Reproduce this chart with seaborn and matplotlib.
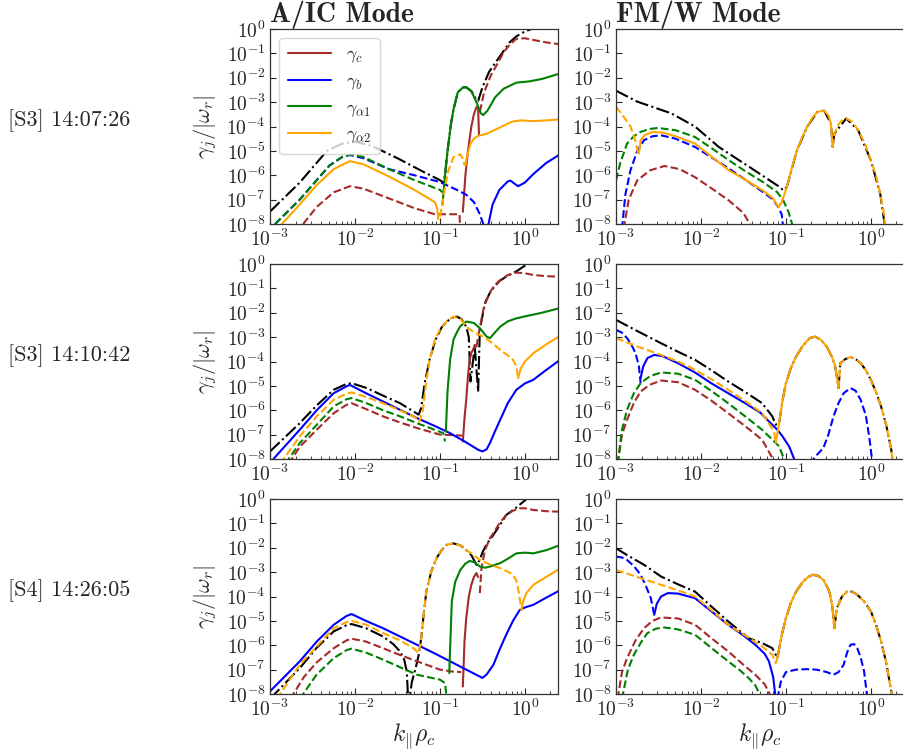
import numpy as np
import matplotlib
matplotlib.use("Agg")
import matplotlib.pyplot as plt
import matplotlib.ticker as mticker
from matplotlib.lines import Line2D
import seaborn as sns

# Values, stored as log10(k_par rho_c) and log10(|gamma_j/omega_r|).
# Each species is a list of segments (sign, log10 k, log10 gamma):
# sign +1 = growth (solid line), -1 = damping (dashed line).
# "tot" is the black dash-dot total.

row_labels = ["[S3] 14:07:26", "[S3] 14:10:42", "[S4] 14:26:05"]
col_titles = ["A/IC Mode", "FM/W Mode"]
species = ["c", "b", "a1", "a2"]
species_labels = [r"$\gamma_c$", r"$\gamma_b$", r"$\gamma_{\alpha 1}$", r"$\gamma_{\alpha 2}$"]

# ---------------- [S3] 14:07:26, A/IC ----------------
s3a_aic_tot = ([-3, -2.65, -2.33, -2.15, -2.0, -1.8, -1.5, -1.2, -1.0, -0.96, -0.94, -0.91,
                -0.87, -0.84, -0.79, -0.73, -0.69, -0.63, -0.57, -0.55, -0.5, -0.42, -0.33,
                -0.25, -0.18, -0.1, 0.0, 0.08],
               [-7.49, -6.3, -5.0, -4.7, -4.62, -4.8, -5.3, -5.85, -6.2, -6.3, -6.0, -5.0,
                -3.9, -3.3, -2.6, -2.4, -2.39, -2.55, -2.9, -2.95, -2.4, -1.75, -1.3,
                -0.9, -0.55, -0.3, -0.1, 0.0])
s3a_aic_c = [(-1, [-2.61, -2.45, -2.25, -2.06, -1.9, -1.6, -1.3, -1.06, -0.9, -0.77, -0.76],
                  [-8, -7.3, -6.7, -6.45, -6.55, -6.95, -7.35, -7.6, -7.6, -7.6, -8.2]),
             (1, [-0.73, -0.7, -0.67, -0.63, -0.6, -0.57, -0.55, -0.54],
                 [-7.5, -6.0, -5.0, -4.0, -3.5, -3.2, -3.25, -4.36]),
             (-1, [-0.53, -0.48, -0.4, -0.33, -0.25, -0.18, -0.1, 0.0, 0.1, 0.25, 0.4],
                  [-3.4, -2.6, -1.9, -1.47, -0.95, -0.65, -0.4, -0.38, -0.45, -0.55, -0.62])]
s3a_aic_b = [(-1, [-2.94, -2.65, -2.45, -2.3, -2.15, -2.06, -1.9, -1.6, -1.3, -1.0, -0.8,
                   -0.69, -0.6, -0.53, -0.47],
                  [-8, -7.0, -6.2, -5.6, -5.25, -5.17, -5.3, -5.75, -6.0, -6.28, -6.6,
                   -6.8, -7.1, -7.6, -8.2]),
             (1, [-0.44, -0.38, -0.3, -0.2, -0.17, -0.12, -0.08, 0.0, 0.1, 0.25, 0.4],
                 [-8.2, -7.2, -6.6, -6.25, -6.22, -6.35, -6.45, -6.3, -5.95, -5.5, -5.17])]
s3a_aic_a1 = [(-1, [-2.94, -2.65, -2.45, -2.3, -2.15, -2.06, -1.9, -1.6, -1.3, -1.0, -0.97],
                   [-8, -7.0, -6.2, -5.6, -5.25, -5.15, -5.25, -5.75, -6.2, -6.6, -6.7]),
              (1, [-0.97, -0.94, -0.91, -0.87, -0.84, -0.79, -0.73, -0.69, -0.63, -0.57, -0.52,
                   -0.49, -0.44, -0.35, -0.25, -0.1, 0.05, 0.2, 0.4],
                  [-7.2, -6.0, -5.0, -3.9, -3.3, -2.6, -2.4, -2.39, -2.55, -3.0, -3.45,
                   -3.53, -3.35, -2.8, -2.45, -2.2, -2.15, -2.05, -1.84])]
s3a_aic_a2 = [(1, [-2.86, -2.65, -2.45, -2.25, -2.06, -1.9, -1.6, -1.3, -1.06, -1.03, -1.02],
                  [-8, -7.2, -6.4, -5.75, -5.42, -5.55, -6.05, -6.6, -7.1, -7.4, -7.8]),
              (-1, [-1.0, -0.97, -0.94, -0.9, -0.84, -0.76, -0.72, -0.71],
                   [-7.7, -7.2, -6.5, -5.8, -5.25, -5.14, -5.4, -5.6]),
              (1, [-0.7, -0.68, -0.64, -0.6, -0.55, -0.45, -0.3, -0.15, -0.05, 0.1, 0.25, 0.4],
                  [-5.6, -5.2, -4.7, -4.5, -4.38, -4.3, -4.05, -3.8, -3.75, -3.78, -3.75, -3.71])]

# ---------------- [S3] 14:07:26, FM/W ----------------
s3a_fm_tot = ([-3, -2.75, -2.35, -2.07, -1.79, -1.43, -1.07, -1.03, -0.99, -0.87, -0.75, -0.63,
               -0.55, -0.47, -0.45, -0.43, -0.29, -0.15, 0.0, 0.11, 0.17],
              [-2.53, -2.98, -3.46, -4.0, -4.84, -5.66, -6.49, -6.62, -6.49, -4.98, -4.01, -3.4,
               -3.35, -3.88, -4.84, -4.29, -3.67, -4.15, -5.39, -6.76, -8.2])
s3a_fm_c = [(-1, [-2.91, -2.85, -2.75, -2.6, -2.43, -2.25, -2.07, -1.87, -1.67, -1.5, -1.39],
                 [-8.2, -7.0, -6.21, -5.8, -5.62, -5.75, -6.08, -6.55, -7.04, -7.55, -8.2])]
s3a_fm_b = [(-1, [-2.93, -2.89, -2.83, -2.75, -2.67, -2.57, -2.47, -2.3, -2.07, -1.87, -1.67,
                  -1.47, -1.27, -1.15, -1.09, -1.05, -1.03],
                 [-8.2, -6.8, -5.8, -5.0, -4.56, -4.4, -4.36, -4.5, -4.84, -5.28, -5.73,
                  -6.2, -6.69, -7.0, -7.31, -7.6, -8.2])]
s3a_fm_a1 = [(-1, [-3, -2.95, -2.87, -2.79, -2.71, -2.6, -2.51, -2.3, -2.07, -1.87, -1.67,
                   -1.47, -1.27, -1.1, -1.03, -0.97, -0.91],
                  [-6.21, -5.5, -4.7, -4.4, -4.22, -4.1, -4.06, -4.15, -4.43, -4.9, -5.39,
                   -5.85, -6.28, -6.7, -7.04, -7.5, -8.2])]
s3a_fm_a2 = [(-1, [-3, -2.92, -2.83, -2.77, -2.74], [-3.19, -3.55, -4.0, -4.6, -5.1]),
             (1, [-2.73, -2.71, -2.66, -2.57, -2.45, -2.3, -2.07, -1.87, -1.67, -1.47, -1.27,
                  -1.15, -1.09, -1.05, -1.03, -0.99, -0.93, -0.87, -0.81, -0.75, -0.69, -0.63,
                  -0.55, -0.5, -0.47, -0.45],
                 [-5.1, -4.56, -4.35, -4.22, -4.25, -4.4, -4.7, -5.25, -5.8, -6.2, -6.63,
                  -6.95, -7.31, -7.1, -6.9, -6.49, -5.7, -4.98, -4.45, -4.01, -3.65, -3.4,
                  -3.35, -3.55, -3.88, -4.84]),
             (-1, [-0.45, -0.43, -0.38, -0.33, -0.29, -0.22, -0.15, -0.07, 0.0, 0.06, 0.11,
                   0.15, 0.17],
                  [-4.84, -4.29, -3.9, -3.72, -3.67, -3.8, -4.15, -4.7, -5.39, -6.0, -6.76,
                   -7.5, -8.2])]

# ---------------- [S3] 14:10:42, A/IC ----------------
s3b_aic_tot = ([-3, -2.65, -2.45, -2.25, -2.1, -2.04, -1.86, -1.67, -1.47, -1.25, -1.22, -1.18,
                -1.12, -1.05, -0.98, -0.92, -0.84, -0.8, -0.75, -0.69, -0.66, -0.64, -0.59,
                -0.55, -0.53, -0.47, -0.4, -0.3, -0.22, -0.1, 0.03],
               [-7.69, -6.53, -5.8, -5.16, -4.92, -4.89, -5.09, -5.4, -5.71, -6.18, -5.9, -4.9,
                -3.9, -3.1, -2.6, -2.36, -2.18, -2.16, -2.25, -2.57, -3.0, -4.82, -3.39,
                -5.23, -2.7, -1.6, -1.1, -0.7, -0.52, -0.3, 0.0])
s3b_aic_c = [(-1, [-2.78, -2.65, -2.45, -2.25, -2.1, -2.04, -1.87, -1.67, -1.47, -1.27, -1.0,
                   -0.85, -0.74],
                  [-8.2, -7.5, -6.8, -6.12, -5.78, -5.71, -5.95, -6.25, -6.5, -6.73, -7.0,
                   -7.02, -7.04]),
             (1, [-0.73, -0.71, -0.69, -0.67, -0.65, -0.63, -0.61, -0.59, -0.57],
                 [-7.28, -6.3, -5.57, -4.6, -3.93, -3.65, -3.52, -3.32, -3.39]),
             (-1, [-0.57, -0.53, -0.49, -0.45, -0.4, -0.35, -0.29, -0.2, -0.1, 0.0, 0.1, 0.25, 0.4],
                  [-3.39, -2.6, -1.9, -1.47, -1.1, -0.85, -0.66, -0.45, -0.35, -0.38, -0.45,
                   -0.5, -0.52])]
s3b_aic_b = [(1, [-2.96, -2.65, -2.45, -2.25, -2.1, -2.06, -1.87, -1.67, -1.47, -1.27, -1.07,
                  -0.88, -0.7, -0.55, -0.5, -0.45, -0.41, -0.35, -0.29, -0.2, -0.1, 0.0, 0.1,
                  0.25, 0.4],
                 [-8, -6.8, -6.0, -5.3, -5.02, -4.96, -5.3, -5.64, -5.98, -6.32, -6.63,
                  -6.94, -7.3, -7.62, -7.69, -7.6, -7.34, -6.85, -6.39, -5.7, -5.16, -4.9,
                  -4.75, -4.35, -3.97])]
s3b_aic_a1 = [(-1, [-2.82, -2.65, -2.45, -2.25, -2.1, -2.04, -1.87, -1.67, -1.47, -1.27, -1.1,
                    -0.96, -0.94],
                   [-8.2, -7.35, -6.6, -5.84, -5.55, -5.5, -5.7, -6.0, -6.25, -6.53, -6.75,
                    -6.94, -7.28]),
              (1, [-0.93, -0.91, -0.88, -0.84, -0.8, -0.76, -0.69, -0.6, -0.53, -0.45, -0.41,
                   -0.35, -0.29, -0.2, -0.1, 0.0, 0.2, 0.4],
                  [-6.87, -5.2, -3.93, -3.1, -2.8, -2.55, -2.36, -2.42, -2.63, -2.98, -3.04,
                   -2.8, -2.57, -2.35, -2.23, -2.15, -2.0, -1.82])]
s3b_aic_a2 = [(-1, [-2.88, -2.65, -2.45, -2.25, -2.1, -2.04, -1.87, -1.67, -1.47, -1.27, -1.24,
                    -1.2, -1.16, -1.12, -1.06, -1.0, -0.92, -0.84, -0.76, -0.69, -0.6, -0.49,
                    -0.4, -0.29, -0.2, -0.14, -0.1, -0.08],
                   [-8.2, -7.07, -6.25, -5.57, -5.32, -5.27, -5.45, -5.71, -6.0, -6.32, -6.46,
                    -5.98, -4.8, -3.93, -3.1, -2.7, -2.35, -2.16, -2.25, -2.57, -2.8, -2.98,
                    -3.2, -3.52, -3.75, -3.93, -4.2, -4.68]),
              (1, [-0.08, -0.05, 0.0, 0.1, 0.25, 0.4], [-4.68, -4.3, -4.0, -3.66, -3.3, -2.98])]

# ---------------- [S3] 14:10:42, FM/W ----------------
s3b_fm_tot = ([-3, -2.75, -2.47, -2.27, -2.07, -1.88, -1.68, -1.48, -1.28, -1.16, -1.12, -1.08,
               -1.04, -1.0, -0.94, -0.88, -0.8, -0.72, -0.66, -0.59, -0.52, -0.46, -0.42, -0.38,
               -0.36, -0.3, -0.24, -0.18, -0.12, -0.06, 0.0, 0.06, 0.12, 0.18, 0.24, 0.26],
              [-2.29, -2.75, -3.25, -3.6, -3.93, -4.35, -4.82, -5.25, -5.71, -6.25, -6.59, -6.53,
               -5.6, -4.89, -4.25, -3.8, -3.35, -3.04, -2.98, -3.1, -3.39, -3.8, -4.2, -5.09,
               -4.07, -3.9, -3.82, -3.9, -4.07, -4.35, -4.75, -5.25, -5.84, -6.6, -7.62, -8.2])
s3b_fm_c = [(-1, [-2.98, -2.93, -2.87, -2.79, -2.71, -2.6, -2.47, -2.27, -2.07, -1.88, -1.68,
                  -1.48, -1.28, -1.12],
                 [-8.2, -7.0, -6.39, -5.7, -5.23, -4.95, -4.78, -4.85, -5.16, -5.6, -6.12,
                  -6.65, -7.21, -8.2])]
s3b_fm_b = [(-1, [-3, -2.93, -2.87, -2.82, -2.77, -2.73, -2.71],
                 [-2.7, -2.82, -3.04, -3.3, -3.66, -4.2, -4.89]),
            (1, [-2.71, -2.68, -2.63, -2.55, -2.45, -2.27, -2.07, -1.88, -1.68, -1.48, -1.3, -1.2,
                 -1.1, -1.04, -0.96, -0.88],
                [-4.68, -4.2, -3.86, -3.73, -3.78, -4.07, -4.45, -4.89, -5.3, -5.71, -6.1, -6.46,
                 -6.8, -7.07, -7.5, -8.2]),
            (-1, [-0.72, -0.64, -0.56, -0.5, -0.44, -0.38, -0.32, -0.24, -0.18, -0.12, -0.06,
                  -0.02, 0.02],
                 [-8.2, -7.85, -7.55, -7.0, -6.25, -5.7, -5.3, -5.09, -5.2, -5.57, -6.2, -7.07,
                  -8.2])]
s3b_fm_a1 = [(-1, [-2.98, -2.93, -2.87, -2.79, -2.71, -2.6, -2.47, -2.27, -2.07, -1.88, -1.68,
                   -1.48, -1.28, -1.08, -1.0],
                  [-8.2, -6.8, -5.98, -5.3, -4.89, -4.6, -4.45, -4.5, -4.75, -5.2, -5.71, -6.25,
                   -6.8, -7.48, -8.2])]
s3b_fm_a2 = [(-1, [-3, -2.75, -2.47, -2.27, -2.07, -1.88, -1.68, -1.48, -1.28, -1.14, -1.12],
                  [-3.04, -3.38, -3.73, -4.0, -4.34, -4.72, -5.16, -5.62, -6.12, -6.87, -7.34]),
             (1, [-1.12, -1.08, -1.04, -1.0, -0.94, -0.88, -0.8, -0.72, -0.66, -0.59, -0.52,
                  -0.46, -0.42, -0.38],
                 [-7.34, -6.53, -5.6, -4.89, -4.25, -3.8, -3.35, -3.04, -2.98, -3.1, -3.39,
                  -3.8, -4.2, -5.09]),
             (-1, [-0.38, -0.36, -0.3, -0.24, -0.18, -0.12, -0.06, 0.0, 0.06, 0.12, 0.18, 0.24,
                   0.26],
                  [-5.09, -4.07, -3.9, -3.82, -3.9, -4.07, -4.35, -4.75, -5.25, -5.84, -6.6,
                   -7.62, -8.2])]

# ---------------- [S4] 14:26:05, A/IC ----------------
s4_aic_tot = ([-3, -2.65, -2.45, -2.25, -2.1, -2.04, -1.87, -1.67, -1.55, -1.47, -1.42, -1.39,
               -1.37, -1.33, -1.29, -1.25, -1.22, -1.19, -1.16, -1.1, -1.04, -0.98, -0.92,
               -0.84, -0.76, -0.69, -0.63, -0.6, -0.57, -0.53, -0.5, -0.45, -0.37, -0.3,
               -0.22, -0.1, 0.02],
              [-8.2, -6.94, -6.1, -5.43, -5.18, -5.13, -5.3, -5.64, -5.95, -6.25, -6.6, -7.07,
               -8.5, -7.5, -7.0, -6.4, -5.71, -4.7, -3.8, -2.95, -2.43, -2.1, -1.88,
               -1.82, -1.9, -2.09, -2.3, -2.5, -2.7, -2.5, -2.2, -1.85, -1.47, -1.1,
               -0.66, -0.35, 0.0])
s4_aic_c = [(-1, [-2.76, -2.6, -2.45, -2.25, -2.1, -2.04, -1.87, -1.67, -1.47, -1.27, -1.0,
                  -0.85, -0.75],
                 [-8.2, -7.3, -6.7, -6.12, -5.8, -5.73, -5.85, -6.12, -6.4, -6.66, -7.0,
                  -7.08, -7.1]),
            (1, [-0.73, -0.71, -0.69, -0.66, -0.63, -0.6, -0.57, -0.55],
                [-7.69, -5.8, -4.89, -4.0, -3.52, -3.2, -3.04, -3.2]),
            (-1, [-0.53, -0.52, -0.51, -0.47, -0.41, -0.37, -0.3, -0.22, -0.14, -0.06, 0.0,
                  0.1, 0.25, 0.4],
                 [-3.86, -3.3, -2.84, -2.1, -1.6, -1.4, -1.0, -0.66, -0.48, -0.38, -0.38,
                  -0.45, -0.5, -0.52])]
s4_aic_b = [(1, [-3, -2.65, -2.45, -2.25, -2.1, -2.04, -1.87, -1.67, -1.47, -1.27, -1.07, -0.88,
                 -0.69, -0.55, -0.5, -0.45, -0.37, -0.3, -0.22, -0.14, -0.06, 0.0, 0.1, 0.25,
                 0.4],
                [-7.89, -6.66, -5.85, -5.16, -4.8, -4.72, -5.0, -5.3, -5.64, -5.98, -6.32,
                 -6.66, -7.0, -7.25, -7.34, -7.2, -6.8, -6.2, -5.57, -5.0, -4.55, -4.45,
                 -4.34, -4.05, -3.77])]
s4_aic_a1 = [(-1, [-2.65, -2.45, -2.25, -2.1, -2.04, -1.87, -1.67, -1.47, -1.27, -1.0, -0.94,
                   -0.92],
                  [-8.2, -7.2, -6.53, -6.2, -6.14, -6.3, -6.59, -6.9, -7.21, -7.41, -7.55,
                   -8.2]),
             (1, [-0.89, -0.87, -0.86, -0.82, -0.76, -0.7, -0.65, -0.59, -0.53, -0.47, -0.41,
                  -0.35, -0.29, -0.2, -0.1, 0.0, 0.1, 0.25, 0.4],
                 [-7.14, -5.2, -4.2, -3.4, -2.91, -2.65, -2.54, -2.6, -2.77, -2.82, -2.77,
                  -2.7, -2.63, -2.45, -2.23, -2.2, -2.23, -2.1, -1.91])]
s4_aic_a2 = [(-1, [-2.92, -2.65, -2.45, -2.25, -2.1, -2.04, -1.87, -1.67, -1.47, -1.31, -1.25,
                   -1.22, -1.19, -1.16, -1.1, -1.04, -0.98, -0.92, -0.84, -0.76, -0.69, -0.6,
                   -0.53, -0.4, -0.29, -0.2, -0.14, -0.1, -0.08, -0.06, -0.04],
                  [-8.2, -6.8, -6.05, -5.3, -5.05, -5.0, -5.15, -5.5, -5.8, -6.12, -6.32,
                   -5.71, -4.7, -3.8, -2.95, -2.43, -2.1, -1.88, -1.82, -1.9, -2.09, -2.3,
                   -2.5, -2.7, -2.84, -2.98, -3.11, -3.35, -3.66, -4.1, -4.55]),
             (1, [-0.04, -0.02, 0.02, 0.1, 0.25, 0.4], [-4.55, -4.2, -3.85, -3.52, -3.2, -2.88])]

# ---------------- [S4] 14:26:05, FM/W ----------------
s4_fm_tot = ([-3, -2.87, -2.67, -2.47, -2.27, -2.07, -1.88, -1.68, -1.44, -1.28, -1.16, -1.12,
              -1.1, -1.05, -1.0, -0.94, -0.88, -0.8, -0.74, -0.68, -0.62, -0.56, -0.5, -0.48,
              -0.45, -0.43, -0.4, -0.34, -0.28, -0.22, -0.16, -0.08, 0.0, 0.06, 0.12, 0.18,
              0.24, 0.26],
             [-2.02, -2.3, -2.7, -3.18, -3.5, -3.8, -4.4, -5.02, -5.71, -5.91, -6.12, -6.39,
              -6.53, -5.6, -4.89, -4.25, -3.8, -3.4, -3.2, -3.11, -3.15, -3.32, -3.7, -3.93,
              -4.5, -5.3, -4.48, -4.0, -3.8, -3.8, -3.93, -4.2, -4.61, -5.15, -5.84, -6.7,
              -7.89, -8.2])
s4_fm_c = [(-1, [-2.98, -2.93, -2.87, -2.77, -2.67, -2.57, -2.47, -2.27, -2.07, -1.88, -1.68,
                 -1.5, -1.36, -1.25, -1.16],
                [-8.2, -7.1, -6.53, -5.8, -5.3, -5.0, -4.86, -4.9, -5.16, -5.7, -6.25, -6.8,
                 -7.21, -7.6, -8.2])]
s4_fm_b = [(-1, [-3, -2.93, -2.87, -2.79, -2.71, -2.65, -2.59, -2.55],
                [-2.36, -2.4, -2.5, -2.75, -3.11, -3.55, -4.07, -4.75]),
           (1, [-2.55, -2.52, -2.47, -2.39, -2.27, -2.07, -1.88, -1.68, -1.5, -1.36, -1.25,
                -1.2, -1.15, -1.12],
               [-4.75, -4.3, -4.0, -3.86, -3.88, -4.07, -4.6, -5.16, -5.6, -5.98, -6.35,
                -6.66, -7.3, -8.2]),
           (-1, [-1.1, -1.06, -1.0, -0.88, -0.76, -0.64, -0.52, -0.44, -0.38, -0.32, -0.28,
                 -0.24, -0.2, -0.16, -0.12, -0.08, -0.04],
                [-8.2, -7.5, -7.1, -7.0, -6.98, -7.0, -7.1, -7.21, -7.1, -6.8, -6.3, -5.98,
                 -5.95, -6.12, -6.5, -7.07, -8.2])]
s4_fm_a1 = [(-1, [-2.93, -2.86, -2.79, -2.7, -2.63, -2.53, -2.43, -2.27, -2.07, -1.88, -1.68,
                  -1.55, -1.44, -1.36, -1.28],
                 [-8.2, -7.0, -6.39, -5.85, -5.5, -5.32, -5.27, -5.35, -5.57, -6.1, -6.66,
                  -7.0, -7.34, -7.65, -8.2])]
s4_fm_a2 = [(-1, [-3, -2.75, -2.47, -2.27, -2.07, -1.88, -1.68, -1.48, -1.28, -1.16, -1.12],
                 [-2.91, -3.2, -3.52, -3.75, -4.0, -4.55, -5.16, -5.6, -6.05, -6.39, -6.73]),
            (1, [-1.12, -1.1, -1.05, -1.0, -0.94, -0.88, -0.8, -0.74, -0.68, -0.62, -0.56,
                 -0.5, -0.48, -0.45, -0.43],
                [-6.73, -6.53, -5.6, -4.89, -4.25, -3.8, -3.4, -3.2, -3.11, -3.15, -3.32,
                 -3.7, -3.93, -4.5, -5.3]),
            (-1, [-0.43, -0.4, -0.34, -0.28, -0.22, -0.16, -0.08, 0.0, 0.06, 0.12, 0.18, 0.24,
                  0.26],
                 [-5.3, -4.48, -4.0, -3.8, -3.8, -3.93, -4.2, -4.61, -5.15, -5.84, -6.7,
                  -7.89, -8.2])]

panels = [
    [dict(tot=s3a_aic_tot, c=s3a_aic_c, b=s3a_aic_b, a1=s3a_aic_a1, a2=s3a_aic_a2),
     dict(tot=s3a_fm_tot, c=s3a_fm_c, b=s3a_fm_b, a1=s3a_fm_a1, a2=s3a_fm_a2)],
    [dict(tot=s3b_aic_tot, c=s3b_aic_c, b=s3b_aic_b, a1=s3b_aic_a1, a2=s3b_aic_a2),
     dict(tot=s3b_fm_tot, c=s3b_fm_c, b=s3b_fm_b, a1=s3b_fm_a1, a2=s3b_fm_a2)],
    [dict(tot=s4_aic_tot, c=s4_aic_c, b=s4_aic_b, a1=s4_aic_a1, a2=s4_aic_a2),
     dict(tot=s4_fm_tot, c=s4_fm_c, b=s4_fm_b, a1=s4_fm_a1, a2=s4_fm_a2)],
]

colors = {"c": "brown", "b": "blue", "a1": "green", "a2": "orange"}

sns.set_style("ticks")
plt.rcParams.update({
    "font.family": ["cmr10", "DejaVu Serif"],
    "mathtext.fontset": "cm",
    "axes.formatter.use_mathtext": True,
    "axes.edgecolor": "0.2",
    "axes.linewidth": 0.9,
    "xtick.direction": "in",
    "ytick.direction": "in",
    "xtick.labelsize": 14,
    "ytick.labelsize": 14,
})

fig = plt.figure(figsize=(9.04, 7.51), dpi=100)
W, H = 904, 751
col_x = [270, 616]
ax_w = 288
row_top = [29, 264, 499]
ax_h = 195


def draw_panel(ax, curves):
    lx, ly = curves["tot"]
    sns.lineplot(x=10 ** np.array(lx), y=10 ** np.array(ly), ax=ax, color="black",
                 linestyle="-.", lw=1.5, sort=False, estimator=None)
    for sp in species:
        for sign, sx, sy in curves[sp]:
            sns.lineplot(x=10 ** np.array(sx), y=10 ** np.array(sy), ax=ax, color=colors[sp],
                         linestyle="-" if sign > 0 else "--", lw=1.5, sort=False,
                         estimator=None)


for r in range(3):
    for c in range(2):
        ax = fig.add_axes([col_x[c] / W, 1 - (row_top[r] + ax_h) / H, ax_w / W, ax_h / H])
        draw_panel(ax, panels[r][c])
        ax.set_xscale("log")
        ax.set_yscale("log")
        ax.set_xlim(1e-3, 10 ** 0.39)
        ax.set_ylim(1e-8, 1)
        ax.yaxis.set_major_locator(mticker.LogLocator(base=10, numticks=20))
        ax.yaxis.set_minor_locator(mticker.NullLocator())
        ax.xaxis.set_major_locator(mticker.LogLocator(base=10, numticks=10))
        ax.xaxis.set_minor_locator(mticker.LogLocator(base=10, subs=np.arange(2, 10), numticks=20))
        ax.xaxis.set_minor_formatter(mticker.NullFormatter())
        ax.tick_params(which="major", length=4, width=0.8, pad=3)
        ax.tick_params(which="minor", length=2.5, width=0.6)
        if c == 0:
            ax.set_ylabel(r"$\gamma_j/|\omega_r|$", fontsize=16, labelpad=5)
        else:
            ax.set_ylabel("")
            ax.spines["right"].set_visible(False)
        if r == 2:
            ax.set_xlabel(r"$k_{\|}\rho_c$", fontsize=17, labelpad=1)
        else:
            ax.set_xlabel("")
        if r == 0:
            ax.set_title(col_titles[c], loc="left", fontfamily="cmb10", fontsize=20, pad=4)
            if c == 0:
                handles = [Line2D([0], [0], color=colors[sp], lw=1.5) for sp in species]
                ax.legend(handles, species_labels, loc="upper left", fontsize=13,
                          handlelength=2.4, labelspacing=0.45, borderpad=0.5,
                          frameon=True, fancybox=True, edgecolor="0.8", framealpha=0.8)
    fig.text(8 / W, 1 - (row_top[r] + ax_h / 2 - 6) / H, row_labels[r], fontsize=16,
             ha="left", va="center")

fig.savefig("out.png", dpi=100)
